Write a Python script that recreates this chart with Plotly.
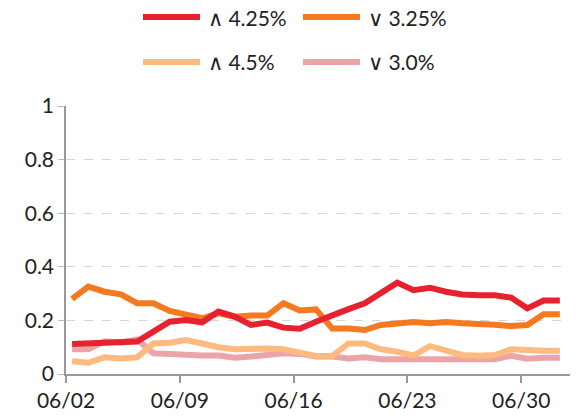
import plotly.graph_objects as go
import pandas as pd

dates = pd.date_range("2024-06-02 09:00", periods=31, freq="D")

names = ["∧ 4.25%", "∨ 3.25%", "∧ 4.5%", "∨ 3.0%"]
colors = ["#E8212E", "#F47920", "#FFBA80", "#EBA5A8"]

hike_425 = [0.112, 0.114, 0.116, 0.114, 0.121, 0.158, 0.195, 0.201, 0.193, 0.233,
            0.214, 0.183, 0.192, 0.173, 0.169, 0.195, 0.216, 0.242, 0.264, 0.301,
            0.341, 0.313, 0.322, 0.307, 0.297, 0.294, 0.294, 0.285, 0.245, 0.274, 0.274]
cut_325 = [0.280, 0.326, 0.307, 0.297, 0.264, 0.264, 0.235, 0.220, 0.208, 0.226,
           0.214, 0.218, 0.218, 0.264, 0.237, 0.241, 0.170, 0.170, 0.164, 0.183,
           0.189, 0.194, 0.189, 0.194, 0.189, 0.189, 0.184, 0.179, 0.183, 0.223, 0.223]
hike_45 = [0.048, 0.042, 0.062, 0.058, 0.062, 0.114, 0.117, 0.127, 0.114, 0.100,
           0.092, 0.095, 0.095, 0.092, 0.080, 0.067, 0.067, 0.114, 0.114, 0.092,
           0.083, 0.069, 0.104, 0.087, 0.071, 0.068, 0.071, 0.092, 0.087, 0.087, 0.087]
cut_30 = [0.092, 0.092, 0.122, 0.118, 0.129, 0.077, 0.075, 0.071, 0.069, 0.069,
          0.061, 0.065, 0.071, 0.077, 0.075, 0.065, 0.065, 0.058, 0.062, 0.055,
          0.055, 0.055, 0.055, 0.055, 0.055, 0.055, 0.055, 0.068, 0.057, 0.061, 0.061]

series = [hike_425, cut_325, hike_45, cut_30]
draw_order = [3, 2, 1, 0]

y_ticks = [0, 0.2, 0.4, 0.6, 0.8, 1]
y_labels = ["0", "0.2", "0.4", "0.6", "0.8", "1"]
x_ticks = pd.to_datetime(["2024-06-02", "2024-06-09", "2024-06-16", "2024-06-23", "2024-06-30"])
x_labels = ["06/02", "06/09", "06/16", "06/23", "06/30"]

FONT = "Lato, 'Noto Sans', sans-serif"
TXT = "#222222"

fig = go.Figure()
for i in draw_order:
    fig.add_trace(go.Scatter(x=dates, y=series[i], mode="lines", name=names[i],
                             line=dict(color=colors[i], width=6), showlegend=False,
                             hoverinfo="skip"))

W, H = 578, 416
ml, mr, mt, mb = 66, 8, 106, 42
pw, ph = W - ml - mr, H - mt - mb

# custom legend (two rows)
legend_pos = [(143, 17), (303, 17), (143, 62), (303, 62)]
shapes = []
annotations = []
for i, (lx, ly) in enumerate(legend_pos):
    x0 = (lx - ml) / pw
    x1 = (lx + 57 - ml) / pw
    yy = (H - mb - ly) / ph
    shapes.append(dict(type="line", xref="paper", yref="paper", x0=x0, x1=x1, y0=yy, y1=yy,
                       line=dict(color=colors[i], width=6), layer="above"))
    annotations.append(dict(xref="paper", yref="paper", x=(lx + 63 - ml) / pw, y=yy,
                            xanchor="left", yanchor="middle", text=names[i], showarrow=False,
                            font=dict(family=FONT, size=21, color=TXT)))

fig.update_layout(
    width=W, height=H,
    margin=dict(l=ml, r=mr, t=mt, b=mb),
    plot_bgcolor="white", paper_bgcolor="white",
    font=dict(family=FONT, size=21, color=TXT),
    shapes=shapes, annotations=annotations,
    xaxis=dict(type="date", range=["2024-06-02", "2024-07-03"], automargin=False,
               tickvals=x_ticks, ticktext=x_labels, showgrid=False,
               showline=True, linecolor="#999999", linewidth=1.5,
               ticks="outside", ticklen=7, tickcolor="#999999", tickwidth=1.5,
               tickfont=dict(family=FONT, size=21, color=TXT),
               zeroline=False, fixedrange=True),
    yaxis=dict(range=[0, 1], tickvals=y_ticks, ticktext=y_labels, automargin=False,
               showgrid=True, gridcolor="#d6d6d6", griddash="dash", gridwidth=1,
               showline=True, linecolor="#999999", linewidth=1.5,
               ticks="outside", ticklen=6, tickcolor="#bbbbbb",
               tickfont=dict(family=FONT, size=21, color=TXT),
               zeroline=False, fixedrange=True),
)

fig.write_html("out.html", config={"displayModeBar": False},
               post_script="document.body.style.margin='0';document.body.style.overflow='hidden';")
